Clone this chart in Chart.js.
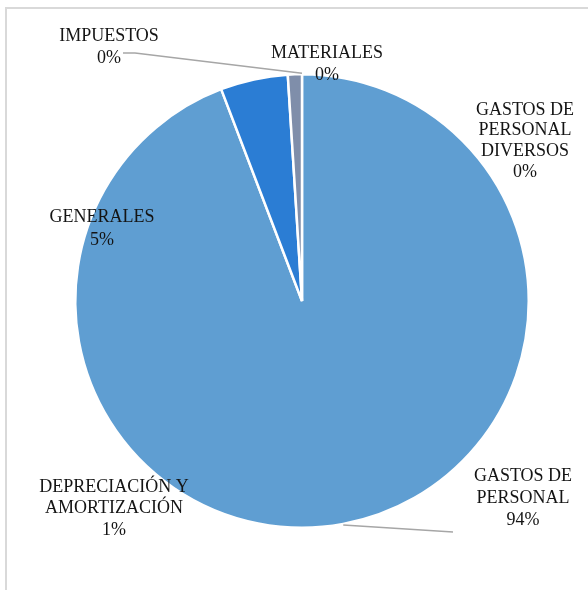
<!DOCTYPE html>
<html>
<head>
<meta charset="utf-8">
<script src="https://cdn.jsdelivr.net/npm/chart.js@4.4.1/dist/chart.umd.min.js"></script>
<style>
  html, body { margin: 0; padding: 0; background: #fff; }
  #wrap { position: relative; width: 588px; height: 590px; overflow: hidden; }
  #frame { position: absolute; left: 5px; top: 7px; width: 700px; height: 700px;
           border-left: 2px solid #d9d9d9; border-top: 2px solid #d9d9d9; box-sizing: border-box; }
  canvas { position: absolute; left: 0; top: 0; }
</style>
</head>
<body>
<div id="wrap">
  <div id="frame"></div>
  <canvas id="c" width="588" height="590"></canvas>
</div>
<script>
// Data
const categories = [
  ["GASTOS DE", "PERSONAL"],
  ["GENERALES"],
  ["DEPRECIACIÓN Y", "AMORTIZACIÓN"],
  ["IMPUESTOS"],
  ["MATERIALES"],
  ["GASTOS DE", "PERSONAL", "DIVERSOS"]
];
const values = [94.2, 4.8, 1.0, 0, 0, 0];
const colors = ["#5f9ed2", "#2b7dd4", "#7f8eaa", "#a5a5a5", "#ffc000", "#4472c4"];

// Label placement (offsets from the pie centre, px) — layout only
const labelOffsets = [
  { dx: 221, dy: 175, lh: 22 },
  { dx: -200, dy: -84, lh: 23 },
  { dx: -188, dy: 186, lh: 21.5 },
  { dx: -193, dy: -265, lh: 22 },
  { dx: 25, dy: -248, lh: 22 },
  { dx: 223, dy: -191, lh: 20.7 }
];
// Leader lines: points relative to centre, last point attaches to the slice edge
const leaders = {
  0: [{ dx: 151, dy: 231 }],
  3: [{ dx: -179, dy: -248 }, { dx: -167, dy: -248 }]
};

const labelPlugin = {
  id: 'pieLabels',
  afterDatasetsDraw(chart) {
    const ctx = chart.ctx;
    const meta = chart.getDatasetMeta(0);
    const data = chart.data.datasets[0].data;
    const total = data.reduce((a, b) => a + b, 0);
    ctx.save();
    meta.data.forEach((arc, i) => {
      const cx = arc.x, cy = arc.y;
      const mid = (arc.startAngle + arc.endAngle) / 2;
      const ex = cx + Math.cos(mid) * (arc.outerRadius + 1);
      const ey = cy + Math.sin(mid) * (arc.outerRadius + 1);
      if (leaders[i]) {
        ctx.strokeStyle = '#a6a6a6';
        ctx.lineWidth = 1.5;
        ctx.beginPath();
        leaders[i].forEach((p, k) => {
          if (k === 0) ctx.moveTo(cx + p.dx, cy + p.dy); else ctx.lineTo(cx + p.dx, cy + p.dy);
        });
        ctx.lineTo(ex, ey);
        ctx.stroke();
      }
      const off = labelOffsets[i];
      const lines = categories[i].slice();
      lines.push(Math.round(data[i] / total * 100) + '%');
      ctx.fillStyle = '#141414';
      ctx.font = '18px "Liberation Serif", "Times New Roman", serif';
      ctx.textAlign = 'center';
      ctx.textBaseline = 'middle';
      lines.forEach((t, k) => {
        ctx.fillText(t, cx + off.dx, cy + off.dy + k * off.lh);
      });
    });
    ctx.restore();
  }
};

new Chart(document.getElementById('c'), {
  type: 'pie',
  data: {
    labels: categories.map(c => c.join(' ')),
    datasets: [{
      data: values,
      backgroundColor: colors,
      borderColor: '#ffffff',
      borderWidth: 2.5
    }]
  },
  options: {
    responsive: false,
    animation: false,
    layout: { padding: { left: 74, right: 58, top: 73, bottom: 61 } },
    plugins: { legend: { display: false }, tooltip: { enabled: false } }
  },
  plugins: [labelPlugin]
});
</script>
</body>
</html>
